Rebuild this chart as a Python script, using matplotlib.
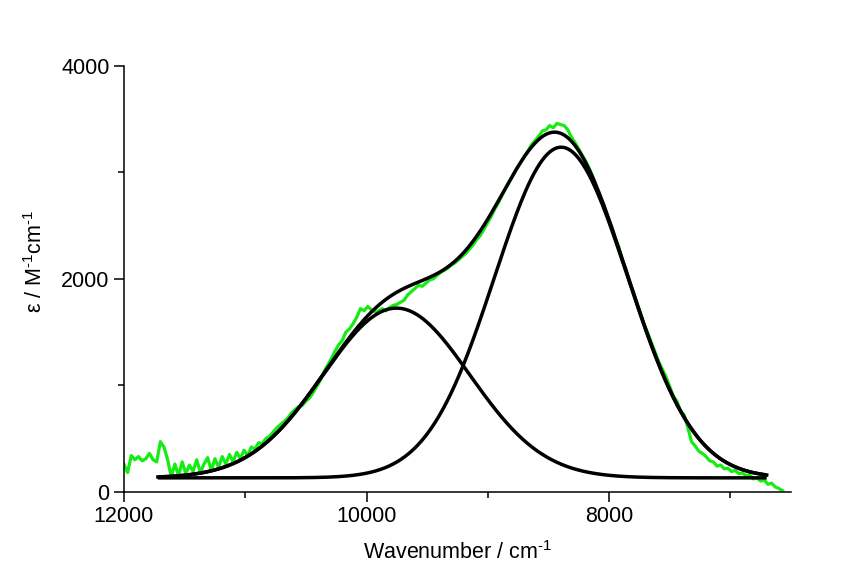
import numpy as np
import matplotlib
matplotlib.use("Agg")
import matplotlib.pyplot as plt
from matplotlib.ticker import MultipleLocator

plt.rcParams['font.family'] = ['Liberation Sans', 'DejaVu Sans']
plt.rcParams['mathtext.default'] = 'regular'

# ---- measured spectrum (green), sampled every 30 cm-1 from 12000 down to 6570 ----
wavenumber = np.arange(12000, 6569, -30)
epsilon = [
    260, 180, 340, 300, 330, 290, 310, 360, 300, 280,          # 12000-11730
    470, 420, 300, 140, 260, 150, 280, 170, 250, 190,          # 11700-11430
    300, 180, 260, 320, 200, 310, 230, 330, 260, 350,          # 11400-11130
    280, 370, 310, 390, 340, 420, 400, 460, 450, 500,          # 11100-10830
    520, 560, 600, 630, 660, 690, 740, 770, 800, 810,          # 10800-10530
    850, 880, 930, 990, 1050, 1130, 1190, 1250, 1320, 1380,    # 10500-10230
    1420, 1500, 1530, 1580, 1640, 1720, 1700, 1740, 1710, 1690,  # 10200-9930
    1700, 1720, 1700, 1730, 1750, 1760, 1780, 1800, 1850, 1880,  # 9900-9630
    1910, 1940, 1930, 1960, 1990, 2000, 2030, 2060, 2080, 2100,  # 9600-9330
    2130, 2150, 2180, 2210, 2240, 2280, 2320, 2370, 2410, 2470,  # 9300-9030
    2530, 2590, 2660, 2720, 2790, 2860, 2920, 2980, 3040, 3090,  # 9000-8730
    3150, 3200, 3260, 3300, 3340, 3390, 3400, 3440, 3420, 3460,  # 8700-8430
    3450, 3440, 3400, 3330, 3280, 3220, 3160, 3100, 3030, 2950,  # 8400-8130
    2850, 2760, 2690, 2580, 2500, 2380, 2300, 2170, 2090, 1960,  # 8100-7830
    1880, 1770, 1680, 1570, 1490, 1400, 1310, 1220, 1150, 1080,  # 7800-7530
    990, 900, 850, 760, 720, 600, 470, 430, 380, 360,            # 7500-7230
    330, 290, 280, 240, 250, 215, 220, 190, 200, 170,            # 7200-6930
    175, 150, 160, 120, 130, 100, 110, 70, 80, 45,               # 6900-6630
    30, 10,                                                      # 6600-6570
]

# ---- Gaussian fit components (black) ----
fit_start, fit_end = 11720, 6700
fit_baseline = 130
peak_centers = [9753, 8395]
peak_heights = [1595, 3107]
peak_sigmas = [605, 550]

x_fit = np.linspace(fit_start, fit_end, 600)
components = [fit_baseline + h * np.exp(-(x_fit - c) ** 2 / (2 * s ** 2))
              for c, h, s in zip(peak_centers, peak_heights, peak_sigmas)]
total = fit_baseline + sum(c - fit_baseline for c in components)

fig = plt.figure(figsize=(8.41, 5.64), dpi=100)
ax = fig.add_axes([0.1474, 0.1282, 0.7931, 0.7548])

ax.plot(wavenumber, epsilon, color='#14ec14', lw=2.3, zorder=2)
for comp in components:
    ax.plot(x_fit, comp, color='black', lw=2.5, zorder=3, solid_capstyle='butt')
ax.plot(x_fit, total, color='black', lw=2.5, zorder=3)

ax.set_xlim(12000, 6500)
ax.set_ylim(0, 4000)
ax.xaxis.set_major_locator(MultipleLocator(2000))
ax.xaxis.set_minor_locator(MultipleLocator(1000))
ax.yaxis.set_major_locator(MultipleLocator(2000))
ax.yaxis.set_minor_locator(MultipleLocator(1000))

for s in ['top', 'right']:
    ax.spines[s].set_visible(False)
for s in ['left', 'bottom']:
    ax.spines[s].set_linewidth(1.1)

ax.tick_params(which='major', direction='out', length=7, width=1.1,
               labelsize=15.5, pad=3.5)
ax.tick_params(which='minor', direction='out', length=4, width=1.1)

ax.set_xlabel('Wavenumber / cm$^{\u20101}$', fontsize=15.5, labelpad=10)
ax.set_ylabel('ε / M$^{\u20101}$cm$^{\u20101}$', fontsize=15.5)
ax.yaxis.set_label_coords(-0.115, 0.54)

fig.savefig('out.png', dpi=100, facecolor='white')
